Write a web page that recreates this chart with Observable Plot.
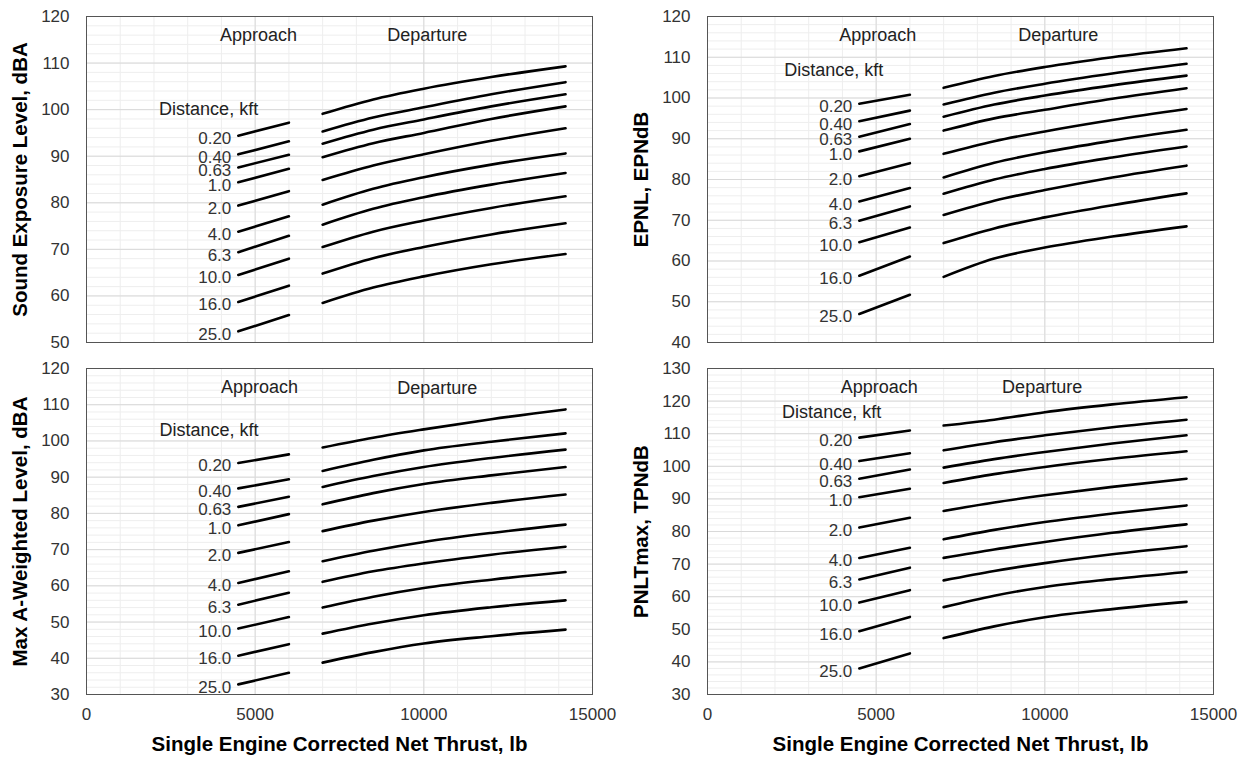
<!DOCTYPE html>
<html>
<head>
<meta charset="utf-8">
<script src="https://cdn.jsdelivr.net/npm/d3@7"></script>
<script src="https://cdn.jsdelivr.net/npm/@observablehq/plot@0.6"></script>
<style>
  html, body { margin: 0; padding: 0; background: #fff; }
  #wrap { position: relative; width: 1247px; height: 757px; overflow: hidden; font-family: "Liberation Sans", Arial, sans-serif; }
  .panel { position: absolute; }
  .panel svg g[aria-label="y-axis label"] text,
  .panel svg g[aria-label="x-axis label"] text { font-weight: bold; font-size: 20.5px; fill: #000; }
</style>
</head>
<body>
<div id="wrap"></div>
<script>
// ---------- data ----------
const distances = ["0.20", "0.40", "0.63", "1.0", "2.0", "4.0", "6.3", "10.0", "16.0", "25.0"];
const approachThrust = [4500, 6000];
const departureThrust = [7000, 8500, 10000, 12000, 14200];
const xTicks = [0, 5000, 10000, 15000];

// Sound Exposure Level, dBA
const selTicks = [50, 60, 70, 80, 90, 100, 110, 120];
const selApproach = [[94.4, 97.2], [90.4, 93.2], [87.6, 90.3], [84.4, 87.3], [79.4, 82.5], [73.8, 77.1], [69.4, 72.9], [64.5, 68.0], [58.7, 62.2], [52.4, 55.9]];
const selDeparture = [
  [99.1, 102.2, 104.5, 107.0, 109.3],
  [95.3, 98.3, 100.5, 103.3, 105.9],
  [92.7, 95.7, 97.9, 100.7, 103.3],
  [89.8, 92.8, 95.0, 98.0, 100.7],
  [84.9, 88.0, 90.4, 93.3, 96.0],
  [79.6, 83.0, 85.5, 88.2, 90.6],
  [75.3, 78.7, 81.2, 83.9, 86.4],
  [70.5, 73.8, 76.2, 78.9, 81.4],
  [64.8, 68.1, 70.5, 73.2, 75.6],
  [58.5, 61.8, 64.2, 66.8, 69.0]
];
const selNotes = [
  {x: 5100, y: 115.9, text: "Approach"},
  {x: 10100, y: 115.9, text: "Departure"},
  {x: 3620, y: 100.0, text: "Distance, kft"}
];

// EPNL, EPNdB
const epnlTicks = [40, 50, 60, 70, 80, 90, 100, 110, 120];
const epnlApproach = [[98.6, 100.8], [94.3, 96.9], [90.5, 93.6], [86.9, 90.0], [80.8, 84.0], [74.6, 77.9], [69.9, 73.4], [64.6, 68.2], [56.4, 61.1], [47.0, 51.7]];
const epnlDeparture = [
  [102.5, 105.4, 107.6, 110.0, 112.2],
  [98.4, 101.3, 103.5, 106.0, 108.4],
  [95.4, 98.4, 100.6, 103.1, 105.5],
  [92.0, 95.0, 97.1, 99.8, 102.4],
  [86.3, 89.4, 91.8, 94.6, 97.3],
  [80.5, 84.1, 86.7, 89.5, 92.2],
  [76.5, 80.0, 82.6, 85.4, 88.1],
  [71.3, 74.8, 77.4, 80.5, 83.4],
  [64.4, 68.0, 70.7, 73.7, 76.6],
  [56.1, 60.6, 63.3, 66.0, 68.5]
];
const epnlNotes = [
  {x: 5050, y: 115.3, text: "Approach"},
  {x: 10400, y: 115.3, text: "Departure"},
  {x: 3740, y: 106.7, text: "Distance, kft"}
];

// Max A-Weighted Level, dBA
const maxaTicks = [30, 40, 50, 60, 70, 80, 90, 100, 110, 120];
const maxaApproach = [[93.9, 96.3], [86.9, 89.4], [81.8, 84.6], [76.7, 79.8], [69.1, 72.1], [60.8, 64.0], [54.8, 58.1], [48.2, 51.4], [40.7, 43.9], [32.8, 36.0]];
const maxaDeparture = [
  [98.2, 100.9, 103.2, 106.0, 108.7],
  [91.7, 94.8, 97.4, 99.8, 102.1],
  [87.3, 90.3, 92.8, 95.3, 97.6],
  [82.5, 85.6, 88.1, 90.5, 92.8],
  [75.1, 78.0, 80.4, 82.9, 85.2],
  [66.8, 69.7, 72.1, 74.6, 76.9],
  [61.1, 64.0, 66.2, 68.6, 70.8],
  [54.0, 57.0, 59.4, 61.7, 63.8],
  [46.8, 49.6, 51.9, 54.1, 56.0],
  [38.8, 41.7, 44.1, 46.1, 47.9]
];
const maxaNotes = [
  {x: 5130, y: 114.9, text: "Approach"},
  {x: 10400, y: 114.6, text: "Departure"},
  {x: 3630, y: 103.0, text: "Distance, kft"}
];

// PNLTmax, TPNdB
const pnltTicks = [30, 40, 50, 60, 70, 80, 90, 100, 110, 120, 130];
const pnltApproach = [[108.8, 111.0], [101.6, 104.0], [96.2, 99.0], [90.5, 93.1], [81.2, 84.2], [71.9, 75.0], [65.3, 68.9], [58.2, 62.0], [49.4, 53.8], [38.0, 42.6]];
const pnltDeparture = [
  [112.5, 114.3, 116.6, 119.0, 121.2],
  [104.9, 107.4, 109.5, 112.0, 114.3],
  [99.6, 102.2, 104.4, 107.0, 109.5],
  [94.9, 97.6, 99.8, 102.3, 104.6],
  [86.3, 88.9, 91.1, 93.7, 96.2],
  [77.6, 80.5, 82.9, 85.5, 88.0],
  [71.9, 74.5, 76.8, 79.6, 82.2],
  [65.0, 67.9, 70.3, 73.0, 75.5],
  [56.8, 60.3, 63.0, 65.4, 67.6],
  [47.3, 50.9, 53.7, 56.2, 58.4]
];
const pnltNotes = [
  {x: 5090, y: 124.3, text: "Approach"},
  {x: 9920, y: 124.1, text: "Departure"},
  {x: 3680, y: 116.6, text: "Distance, kft"}
];

const xLabel = "Single Engine Corrected Net Thrust, lb";

// ---------- build ----------
function rowsFor(approach, departure) {
  const rows = [];
  approach.forEach((vals, i) => vals.forEach((v, j) => rows.push({key: "a" + i, x: approachThrust[j], y: v})));
  departure.forEach((vals, i) => vals.forEach((v, j) => rows.push({key: "d" + i, x: departureThrust[j], y: v})));
  return rows;
}

function panel({left, top, width, height, mLeft, mRight, mTop, mBottom, yTicks, yLabel, approach, departure, notes, showX}) {
  const yMin = yTicks[0], yMax = yTicks[yTicks.length - 1];
  const rows = rowsFor(approach, departure);
  const labels = distances.map((d, i) => ({text: d, y: approach[i][0]}));
  const chart = Plot.plot({
    width, height,
    marginLeft: mLeft, marginRight: mRight, marginTop: mTop, marginBottom: mBottom,
    style: {fontFamily: '"Liberation Sans", Arial, sans-serif', fontSize: "17px", color: "#333", background: "#fff", overflow: "visible"},
    x: {domain: [0, 15000], ticks: xTicks, tickFormat: "d", tickSize: 0, tickPadding: 13,
        axis: showX ? "bottom" : null, label: showX ? xLabel : null, labelAnchor: "center", labelOffset: 56, labelArrow: false},
    y: {domain: [yMin, yMax], ticks: yTicks, tickSize: 0, tickPadding: 17,
        label: yLabel, labelAnchor: "center", labelOffset: 74, labelArrow: false},
    marks: [
      Plot.ruleX(d3.range(0, 15001, 1000), {stroke: "#eeeeee", strokeWidth: 1}),
      Plot.ruleY(d3.range(yMin, yMax + 0.001, 2), {stroke: "#eeeeee", strokeWidth: 1}),
      Plot.ruleX(xTicks, {stroke: "#d9d9d9", strokeWidth: 1}),
      Plot.ruleY(yTicks, {stroke: "#d9d9d9", strokeWidth: 1}),
      Plot.frame({stroke: "#555", strokeWidth: 1}),
      Plot.line(rows, {x: "x", y: "y", z: "key", stroke: "#000", strokeWidth: 2.6, curve: "monotone-x"}),
      Plot.text(labels, {x: () => approachThrust[0], y: "y", text: "text", textAnchor: "end", dx: -7, dy: 3, fontSize: 17, fill: "#333"}),
      Plot.text(notes, {x: "x", y: "y", text: "text", textAnchor: "middle", fontSize: 18, fill: "#222"})
    ]
  });
  const div = document.createElement("div");
  div.className = "panel";
  div.style.left = left + "px";
  div.style.top = top + "px";
  div.appendChild(chart);
  document.getElementById("wrap").appendChild(div);
}

panel({left: 0, top: 0, width: 620, height: 357, mLeft: 86, mRight: 28, mTop: 16, mBottom: 15,
  yTicks: selTicks, yLabel: "Sound Exposure Level, dBA", approach: selApproach, departure: selDeparture, notes: selNotes, showX: false});
panel({left: 620, top: 0, width: 627, height: 357, mLeft: 87, mRight: 34, mTop: 16, mBottom: 15,
  yTicks: epnlTicks, yLabel: "EPNL, EPNdB", approach: epnlApproach, departure: epnlDeparture, notes: epnlNotes, showX: false});
panel({left: 0, top: 357, width: 620, height: 400, mLeft: 86, mRight: 28, mTop: 11, mBottom: 63,
  yTicks: maxaTicks, yLabel: "Max A-Weighted Level, dBA", approach: maxaApproach, departure: maxaDeparture, notes: maxaNotes, showX: true});
panel({left: 620, top: 357, width: 627, height: 400, mLeft: 87, mRight: 34, mTop: 11, mBottom: 63,
  yTicks: pnltTicks, yLabel: "PNLTmax, TPNdB", approach: pnltApproach, departure: pnltDeparture, notes: pnltNotes, showX: true});
</script>
</body>
</html>
